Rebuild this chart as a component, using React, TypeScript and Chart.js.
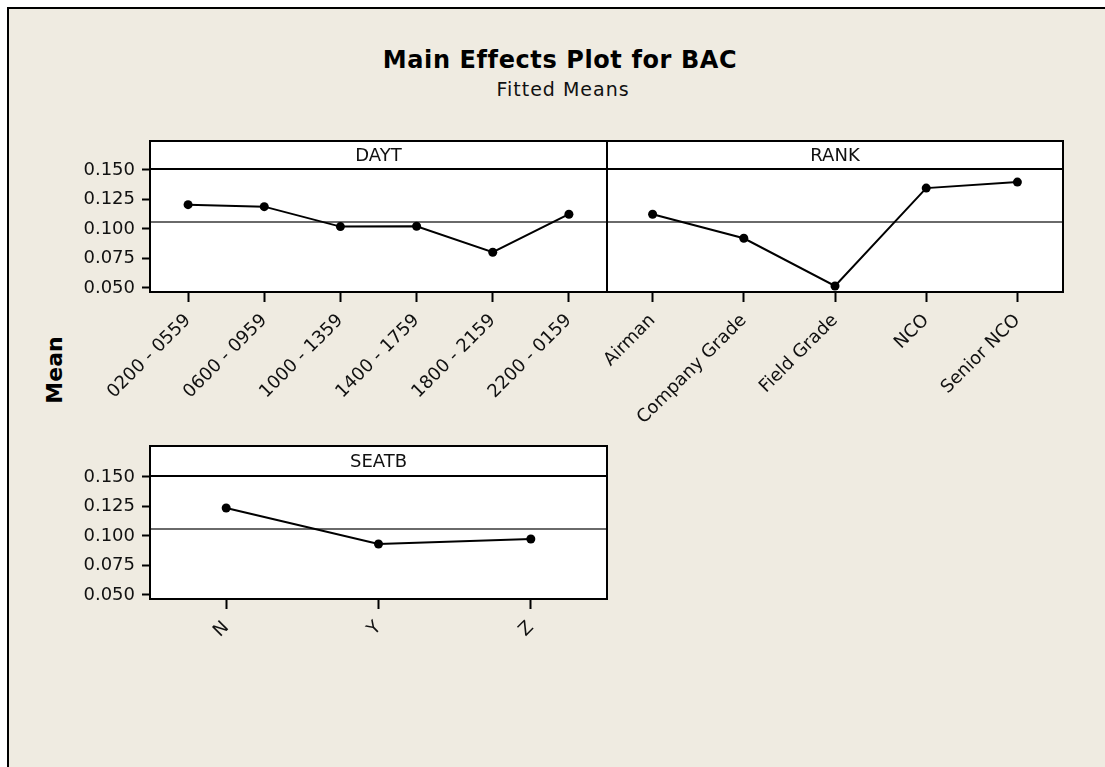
import React, { useEffect, useRef } from "react";
import { Chart, registerables } from "chart.js";

Chart.register(...registerables);

// ---- data ----
const daytCategories = ["0200 - 0559", "0600 - 0959", "1000 - 1359", "1400 - 1759", "1800 - 2159", "2200 - 0159"];
const daytMeans = [0.1206, 0.1189, 0.102, 0.1023, 0.0803, 0.1125];

const rankCategories = ["Airman", "Company Grade", "Field Grade", "NCO", "Senior NCO"];
const rankMeans = [0.1125, 0.0921, 0.0517, 0.1346, 0.1397];

const seatbCategories = ["N", "Y", "Z"];
const seatbMeans = [0.1237, 0.0932, 0.0974];

const yTickValues = [0.05, 0.075, 0.1, 0.125, 0.15];
const grandMean = 0.106;
const yMin = 0.0466;
const yMax = 0.1508;

const FONT = '"DejaVu Sans", "Liberation Sans", sans-serif';
const BG = "rgb(239,235,225)";

type PanelProps = {
  title: string;
  labels: string[];
  values: number[];
  showY: boolean;
  left: number;
  top: number;
  width: number;
  height: number;
  padLeft: number;
  padRight: number;
  padTop: number;
  yWidth: number;
  plotHeight: number;
  headerHeight: number;
};

function Panel(p: PanelProps) {
  const ref = useRef<HTMLCanvasElement>(null);
  useEffect(() => {
    if (!ref.current) return;
    const frame = {
      id: "panelFrame",
      beforeDraw(chart: any) {
        const { ctx, chartArea: a } = chart;
        ctx.save();
        ctx.fillStyle = "#ffffff";
        ctx.fillRect(a.left, a.top - p.headerHeight, a.right - a.left, a.bottom - a.top + p.headerHeight);
        ctx.fillStyle = "#111111";
        ctx.font = `18px ${FONT}`;
        ctx.textAlign = "center";
        ctx.textBaseline = "middle";
        ctx.fillText(p.title, (a.left + a.right) / 2, a.top - p.headerHeight / 2 + 1);
        ctx.restore();
      },
      beforeDatasetsDraw(chart: any) {
        const { ctx, chartArea: a, scales } = chart;
        const y = scales.y.getPixelForValue(grandMean);
        ctx.save();
        ctx.strokeStyle = "#6a6a6a";
        ctx.lineWidth = 2;
        ctx.beginPath();
        ctx.moveTo(a.left, y);
        ctx.lineTo(a.right, y);
        ctx.stroke();
        ctx.restore();
      },
      afterDraw(chart: any) {
        const { ctx, chartArea: a } = chart;
        ctx.save();
        ctx.strokeStyle = "#000000";
        ctx.lineWidth = 2;
        ctx.strokeRect(a.left, a.top - p.headerHeight, a.right - a.left, a.bottom - a.top + p.headerHeight);
        ctx.beginPath();
        ctx.moveTo(a.left, a.top);
        ctx.lineTo(a.right, a.top);
        ctx.stroke();
        ctx.restore();
      },
    };
    const xHeight = p.height - p.padTop - p.plotHeight;
    const chart = new Chart(ref.current, {
      type: "line",
      data: {
        labels: p.labels,
        datasets: [
          {
            data: p.values,
            borderColor: "#000000",
            borderWidth: 2,
            pointRadius: 4.5,
            pointBackgroundColor: "#000000",
            pointBorderColor: "#000000",
            pointBorderWidth: 0,
            clip: false as any,
            tension: 0,
          },
        ],
      },
      options: {
        responsive: false,
        animation: false,
        events: [],
        layout: { autoPadding: false, padding: { left: p.padLeft, right: p.padRight, top: p.padTop, bottom: 0 } },
        plugins: { legend: { display: false }, tooltip: { enabled: false }, title: { display: false } },
        scales: {
          x: {
            type: "category",
            offset: true,
            grid: {
              display: true,
              drawOnChartArea: false,
              drawTicks: true,
              tickLength: 10,
              tickWidth: 2,
              tickColor: "#000000",
              color: "#000000",
            },
            border: { display: false },
            ticks: {
              autoSkip: false,
              maxRotation: 45,
              minRotation: 45,
              padding: 8,
              color: "#111111",
              font: { family: FONT, size: 18 },
            },
            afterFit(scale: any) {
              scale.height = xHeight;
              scale.paddingLeft = 0;
              scale.paddingRight = 0;
            },
          },
          y: {
            display: p.showY,
            min: yMin,
            max: yMax,
            afterBuildTicks(scale: any) {
              scale.ticks = yTickValues.map((v) => ({ value: v }));
            },
            grid: {
              display: true,
              drawOnChartArea: false,
              drawTicks: true,
              tickLength: 8,
              tickWidth: 2,
              tickColor: "#000000",
              color: "#000000",
            },
            border: { display: false },
            ticks: {
              padding: 7,
              color: "#111111",
              font: { family: FONT, size: 18 },
              callback: (v: any) => Number(v).toFixed(3),
            },
            afterFit(scale: any) {
              scale.width = p.yWidth;
              scale.paddingTop = 0;
              scale.paddingBottom = 0;
            },
          },
        },
      },
      plugins: [frame],
    } as any);
    return () => chart.destroy();
  }, []);
  return (
    <canvas
      ref={ref}
      width={p.width}
      height={p.height}
      style={{ position: "absolute", left: p.left, top: p.top, width: p.width, height: p.height }}
    />
  );
}

export default function App() {
  return (
    <div
      style={{
        position: "fixed",
        left: 0,
        top: 0,
        width: 1105,
        height: 767,
        overflow: "hidden",
        background: "#ffffff",
        fontFamily: FONT,
      }}
    >
      <div
        style={{
          position: "absolute",
          left: 7,
          top: 7,
          width: 1200,
          height: 900,
          borderLeft: "2px solid #000",
          borderTop: "2px solid #000",
          background: BG,
        }}
      />
      <div
        style={{
          position: "absolute",
          left: 0,
          top: 48,
          width: 1120,
          textAlign: "center",
          fontSize: 24,
          lineHeight: "24px",
          letterSpacing: "0.6px",
          fontWeight: "bold",
          color: "#000",
          whiteSpace: "nowrap",
        }}
      >
        Main Effects Plot for BAC
      </div>
      <div
        style={{
          position: "absolute",
          left: 0,
          top: 80,
          width: 1126,
          textAlign: "center",
          fontSize: 19,
          lineHeight: "19px",
          letterSpacing: "1px",
          color: "#111",
          whiteSpace: "nowrap",
        }}
      >
        Fitted Means
      </div>
      <div
        style={{
          position: "absolute",
          left: 55,
          top: 370,
          transform: "translate(-50%, -50%) rotate(-90deg)",
          fontSize: 22,
          lineHeight: "22px",
          fontWeight: "bold",
          color: "#000",
          whiteSpace: "nowrap",
        }}
      >
        Mean
      </div>
      <Panel
        title="DAYT"
        labels={daytCategories}
        values={daytMeans}
        showY={true}
        left={40}
        top={130}
        width={570}
        height={310}
        padLeft={0}
        padRight={3}
        padTop={39}
        yWidth={110}
        plotHeight={123}
        headerHeight={28}
      />
      <Panel
        title="RANK"
        labels={rankCategories}
        values={rankMeans}
        showY={false}
        left={540}
        top={130}
        width={540}
        height={310}
        padLeft={67}
        padRight={17}
        padTop={39}
        yWidth={0}
        plotHeight={123}
        headerHeight={28}
      />
      <Panel
        title="SEATB"
        labels={seatbCategories}
        values={seatbMeans}
        showY={true}
        left={40}
        top={437}
        width={570}
        height={310}
        padLeft={0}
        padRight={3}
        padTop={39}
        yWidth={110}
        plotHeight={123}
        headerHeight={30}
      />
    </div>
  );
}
